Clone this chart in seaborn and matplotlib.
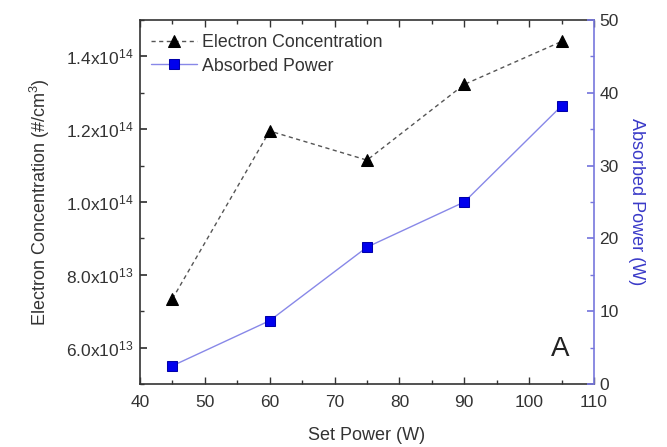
import matplotlib
matplotlib.use("Agg")
import matplotlib.pyplot as plt
import seaborn as sns
import pandas as pd
import math
from matplotlib.ticker import MultipleLocator, FuncFormatter

set_power = [45, 60, 75, 90, 105]
electron_conc = [7.34e13, 1.195e14, 1.115e14, 1.323e14, 1.441e14]
absorbed_power = [2.5, 8.7, 18.8, 25.0, 38.2]

sns.set_theme(style="white")
plt.rcParams['font.family'] = ['Liberation Sans', 'DejaVu Sans']
plt.rcParams['mathtext.default'] = 'regular'

df = pd.DataFrame({"set": set_power, "ne": electron_conc, "pa": absorbed_power})

fig = plt.figure(figsize=(6.67, 4.47), dpi=100)
ax = fig.add_axes([140/667, 1-384/447, 454/667, 364/447])
ax2 = ax.twinx()

sns.lineplot(data=df, x="set", y="ne", ax=ax, color="#555555", linestyle=(0, (3, 2.5)),
             linewidth=1.0, marker="^", markersize=9, markerfacecolor="black",
             markeredgecolor="black", label="Electron Concentration", legend=False)
sns.lineplot(data=df, x="set", y="pa", ax=ax2, color="#8888e8", linewidth=1.0,
             marker="s", markersize=7.5, markerfacecolor="#0000ee",
             markeredgecolor="#0000aa", label="Absorbed Power", legend=False)

ax.set_xlim(40, 110)
ax.set_ylim(5e13, 1.5e14)
ax2.set_ylim(0, 50)

ax.xaxis.set_major_locator(MultipleLocator(10))
ax.xaxis.set_minor_locator(MultipleLocator(5))
ax.yaxis.set_major_locator(MultipleLocator(2e13))
ax.yaxis.set_minor_locator(MultipleLocator(1e13))
ax2.yaxis.set_major_locator(MultipleLocator(10))
ax2.yaxis.set_minor_locator(MultipleLocator(5))

def fmt(v, pos):
    if v <= 0:
        return ""
    e = int(math.floor(math.log10(v) + 1e-9))
    m = v / 10**e
    return f"{m:.1f}x10$^{{{e}}}$"
ax.yaxis.set_major_formatter(FuncFormatter(fmt))

ax.tick_params(axis="x", which="both", direction="in", top=True, bottom=True,
               labelsize=12.5, colors="#333333", pad=8)
ax.tick_params(axis="x", which="major", length=5, width=1)
ax.tick_params(axis="x", which="minor", length=3, width=1)
ax.tick_params(axis="y", which="both", direction="in", left=True, right=False,
               labelsize=12.5, colors="#333333", pad=5)
ax.tick_params(axis="y", which="major", length=5)
ax.tick_params(axis="y", which="minor", length=3)
ax2.tick_params(axis="y", which="both", direction="in", right=True,
               labelsize=12.5, colors="#333333", pad=4)
ax2.tick_params(axis="y", which="major", length=5, color="#7777dd")
ax2.tick_params(axis="y", which="minor", length=3, color="#7777dd")

for s in ["left", "bottom", "top"]:
    ax.spines[s].set_color("#333333")
    ax.spines[s].set_linewidth(1.2)
ax.spines["right"].set_visible(False)
for s in ["left", "bottom", "top"]:
    ax2.spines[s].set_visible(False)
ax2.spines["right"].set_color("#7777dd")
ax2.spines["right"].set_linewidth(1.2)

ax.set_xlabel("Set Power (W)", fontsize=13, color="#333333", labelpad=12)
ax.set_ylabel("Electron Concentration (#/cm$^3$)", fontsize=13, color="#333333", labelpad=10)
ax2.set_ylabel("Absorbed Power (W)", fontsize=13, color="#3a3ac8", rotation=270, labelpad=19)

h1 = ax.get_lines()[0]
h2 = ax2.get_lines()[0]
ax.legend([h1, h2], ["Electron Concentration", "Absorbed Power"], loc="upper left",
          bbox_to_anchor=(0.005, 0.985), frameon=False, fontsize=12.8, handlelength=2.6,
          handletextpad=0.25, borderaxespad=0.3, labelspacing=0.35, borderpad=0.2,
          labelcolor="#333333")

ax.text(0.925, 0.095, "A", transform=ax.transAxes, fontsize=20, color="#222222",
        ha="center", va="center")

fig.savefig("out.png", dpi=100)
